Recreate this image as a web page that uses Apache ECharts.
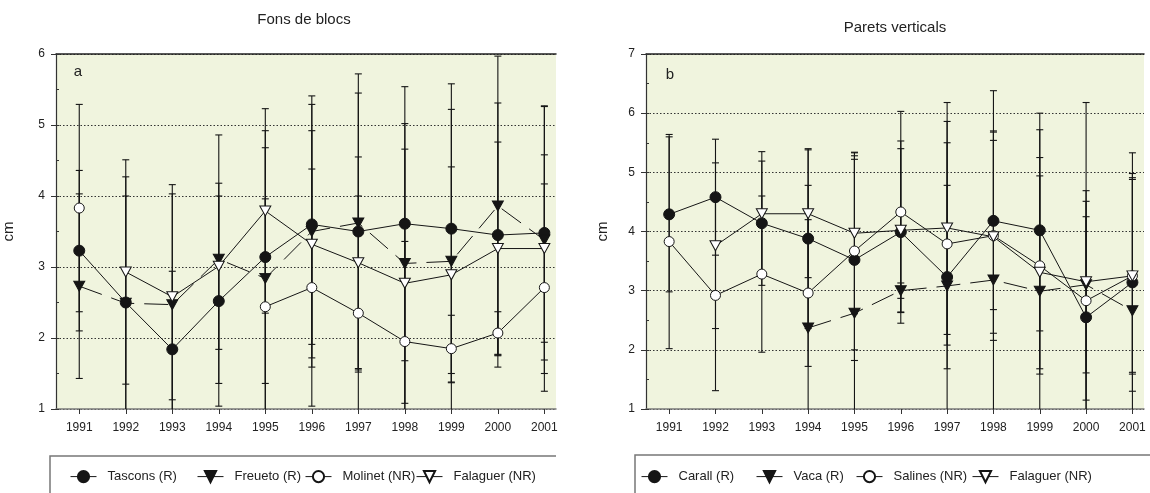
<!DOCTYPE html>
<html>
<head>
<meta charset="utf-8">
<script src="https://cdn.jsdelivr.net/npm/echarts@6/dist/echarts.min.js"></script>
<style>
  html, body { margin: 0; padding: 0; background: #ffffff; }
  #chart { width: 1150px; height: 493px; }
</style>
</head>
<body>
<div id="chart"></div>
<script>
// Survey years shared by both panels
const years = [1991, 1992, 1993, 1994, 1995, 1996, 1997, 1998, 1999, 2000, 2001];

// Panel a — Fons de blocs: mean size (cm) and standard deviation
const tascons      = [3.23, 2.50, 1.84, 2.52, 3.14, 3.60, 3.50, 3.61, 3.54, 3.45, 3.48];
const tasconsSd    = [1.13, 1.77, 1.10, 1.48, 1.78, 1.69, 1.95, 1.93, 2.04, 1.86, 1.79];
const freueto      = [2.73, 2.49, 2.47, 3.11, 2.84, 3.50, 3.62, 3.05, 3.08, 3.86, 3.38];
const freuetoSd    = [1.30, 1.51, 1.69, 1.75, 1.84, 1.91, 2.10, 1.97, 2.14, 2.11, 1.88];
const molinet      = [3.83, null, null, null, 2.44, 2.71, 2.35, 1.95, 1.85, 2.07, 2.71];
const molinetSd    = [1.46, null, null, null, 1.52, 1.67, 1.65, 1.41, 0.47, 0.30, 1.46];
const falaguerA    = [null, 2.93, 2.58, 3.01, 3.79, 3.32, 3.06, 2.77, 2.89, 3.26, 3.26];
const falaguerASd  = [null, 1.58, 1.45, 1.17, 1.44, 1.60, 1.49, 1.89, 1.52, 1.50, 1.32];

// Panel b — Parets verticals: mean size (cm) and standard deviation
const carall       = [4.29, 4.58, 4.14, 3.88, 3.52, 3.99, 3.23, 4.18, 4.02, 2.55, 3.14];
const carallSd     = [1.31, 0.98, 1.05, 1.52, 1.70, 1.54, 1.55, 1.50, 1.70, 1.70, 1.84];
const vaca         = [null, null, null, 2.37, 2.62, 3.00, 3.08, 3.18, 2.99, 3.10, 2.66];
const vacaSd       = [null, null, null, 2.41, 2.66, 0.13, 3.10, 3.20, 3.01, 3.08, 2.67];
const salines      = [3.83, 2.92, 3.28, 2.96, 3.67, 4.33, 3.79, 3.93, 3.42, 2.83, 3.25];
const salinesSd    = [1.81, 1.61, 1.32, 1.24, 1.67, 1.70, 1.71, 1.77, 1.83, 1.68, 1.63];
const falaguerB    = [null, 3.76, 4.30, 4.30, 3.97, 4.02, 4.06, 3.91, 3.31, 3.15, 3.25];
const falaguerBSd  = [null, 1.40, 1.05, 1.08, 1.36, 1.38, 1.80, 1.63, 1.63, 1.54, 1.66];

// Value-axis tick labels
const yTicksA = [1, 2, 3, 4, 5, 6];
const yTicksB = [1, 2, 3, 4, 5, 6, 7];

const FONT = '"Liberation Sans", Arial, Helvetica, sans-serif';
const INK = '#151515';
const PLOT_BG = '#F0F4DE';
const DASH = [24, 10];

const chart = echarts.init(document.getElementById('chart'), null, { renderer: 'canvas' });

// Vertical error bar with caps; the lower end is cut at the axis minimum.
function makeErrRender(yLow) {
  return function (params, api) {
    const x = api.value(0), lo = api.value(1), hi = api.value(2);
    const top = api.coord([x, hi]);
    const bot = api.coord([x, Math.max(lo, yLow)]);
    const hw = 3.5;
    const st = { stroke: INK, lineWidth: 1.1 };
    const children = [
      { type: 'line', shape: { x1: top[0], y1: top[1], x2: bot[0], y2: bot[1] }, style: st },
      { type: 'line', shape: { x1: top[0] - hw, y1: top[1], x2: top[0] + hw, y2: top[1] }, style: st }
    ];
    if (lo >= yLow) {
      children.push({ type: 'line', shape: { x1: bot[0] - hw, y1: bot[1], x2: bot[0] + hw, y2: bot[1] }, style: st });
    }
    return { type: 'group', children };
  };
}

function errSeries(vals, sds, gi, yLow) {
  const data = [];
  years.forEach((y, i) => {
    if (vals[i] != null && sds[i] != null) data.push([y, vals[i] - sds[i], vals[i] + sds[i]]);
  });
  return {
    type: 'custom', xAxisIndex: gi, yAxisIndex: gi, data,
    renderItem: makeErrRender(yLow), encode: { x: 0, y: [1, 2] },
    silent: true, animation: false, z: 2
  };
}

function lineSeries(name, vals, gi, shape, filled, dashed) {
  const tri = shape === 'tri';
  return {
    type: 'line', name, xAxisIndex: gi, yAxisIndex: gi,
    data: years.map((y, i) => [y, vals[i] == null ? '-' : vals[i]]),
    symbol: tri ? 'triangle' : 'circle',
    symbolRotate: tri ? 180 : 0,
    symbolSize: tri ? [11, 10] : (filled ? 11 : 10),
    showAllSymbol: true,
    lineStyle: { color: INK, width: 1, type: dashed ? DASH : 'solid' },
    itemStyle: { color: filled ? INK : '#ffffff', borderColor: INK, borderWidth: 1 },
    emphasis: { disabled: true },
    animation: false, z: 3
  };
}

function xAxisCfg(gi) {
  return {
    type: 'value', gridIndex: gi, min: 1990.5, max: 2001.25,
    axisLine: { show: true, lineStyle: { color: '#7a7a7a', width: 1.5 } },
    axisTick: { show: true, length: 5, customValues: years, lineStyle: { color: '#333', width: 1 } },
    axisLabel: { customValues: years, formatter: v => String(v), color: '#222', fontSize: 12, fontFamily: FONT, margin: 13 },
    splitLine: { show: false }
  };
}

function topAxisCfg(gi) {
  return {
    type: 'value', gridIndex: gi, position: 'top', min: 1990.5, max: 2001.25,
    axisLine: { show: true, lineStyle: { color: '#222', width: 1.5 } },
    axisTick: { show: false }, axisLabel: { show: false }, splitLine: { show: false }
  };
}

function yAxisCfg(gi, ticks, gap) {
  return {
    type: 'value', gridIndex: gi, position: 'left', min: ticks[0], max: ticks[ticks.length - 1], interval: 1,
    name: 'cm', nameLocation: 'middle', nameRotate: 90, nameGap: gap,
    nameTextStyle: { fontSize: 15, color: '#222', fontFamily: FONT },
    axisLine: { show: true, lineStyle: { color: '#333', width: 1.2 } },
    axisTick: { show: true, length: 5, lineStyle: { color: '#333' } },
    axisLabel: { color: '#222', fontSize: 12, fontFamily: FONT, margin: 11 },
    splitLine: { show: true, lineStyle: { color: '#333', width: 1, type: [1.5, 2] } }
  };
}

// Short inward half-unit ticks on the left axis
function yMinorCfg(gi, ticks) {
  return {
    type: 'value', gridIndex: gi, position: 'left', offset: 0,
    min: ticks[0], max: ticks[ticks.length - 1], interval: 0.5,
    axisLine: { show: false },
    axisTick: { show: true, inside: true, length: 3, lineStyle: { color: '#333' } },
    axisLabel: { show: false }, splitLine: { show: false }
  };
}

function legendItem(name, left) {
  return {
    data: [name], left, top: 470, padding: 0, itemWidth: 26, itemHeight: 14,
    selectedMode: false, lineStyle: { type: 'solid', width: 1 },
    textStyle: { fontSize: 13, color: '#222', fontFamily: FONT, padding: [0, 0, 0, 6] }
  };
}

const option = {
  backgroundColor: '#ffffff',
  animation: false,
  grid: [
    { left: 55, top: 54, width: 501, height: 355, show: true, backgroundColor: PLOT_BG, borderWidth: 0 },
    { left: 646, top: 54, width: 498, height: 355, show: true, backgroundColor: PLOT_BG, borderWidth: 0 }
  ],
  xAxis: [xAxisCfg(0), xAxisCfg(1), topAxisCfg(0), topAxisCfg(1)],
  yAxis: [yAxisCfg(0, yTicksA, 40), yAxisCfg(1, yTicksB, 36), yMinorCfg(0, yTicksA), yMinorCfg(1, yTicksB)],
  legend: [
    legendItem('Tascons (R)', 70),
    legendItem('Freueto (R)', 197),
    legendItem('Molinet (NR)', 305),
    legendItem('Falaguer (NR)', 416),
    legendItem('Carall (R)', 641),
    legendItem('Vaca (R)', 756),
    legendItem('Salines (NR)', 856),
    legendItem('Falaguer (NR)', 972)
  ],
  graphic: [
    { type: 'text', x: 304, y: 20, style: { text: 'Fons de blocs', font: '15px ' + FONT, fill: '#222', textAlign: 'center', textVerticalAlign: 'middle' } },
    { type: 'text', x: 895, y: 28, style: { text: 'Parets verticals', font: '15px ' + FONT, fill: '#222', textAlign: 'center', textVerticalAlign: 'middle' } },
    { type: 'text', x: 78, y: 72, style: { text: 'a', font: '15px ' + FONT, fill: '#222', textAlign: 'center', textVerticalAlign: 'middle' }, z: 10 },
    { type: 'text', x: 670, y: 75, style: { text: 'b', font: '15px ' + FONT, fill: '#222', textAlign: 'center', textVerticalAlign: 'middle' }, z: 10 },
    { type: 'polyline', shape: { points: [[50, 500], [50, 456], [556, 456]] }, style: { stroke: '#777', lineWidth: 1.5, fill: null } },
    { type: 'polyline', shape: { points: [[635, 500], [635, 455], [1150, 455]] }, style: { stroke: '#777', lineWidth: 1.5, fill: null } }
  ],
  series: [
    lineSeries('Tascons (R)', tascons, 0, 'circle', true, false),
    lineSeries('Freueto (R)', freueto, 0, 'tri', true, true),
    lineSeries('Molinet (NR)', molinet, 0, 'circle', false, false),
    lineSeries('Falaguer (NR)', falaguerA, 0, 'tri', false, false),
    lineSeries('Carall (R)', carall, 1, 'circle', true, false),
    lineSeries('Vaca (R)', vaca, 1, 'tri', true, true),
    lineSeries('Salines (NR)', salines, 1, 'circle', false, false),
    lineSeries('Falaguer (NR)', falaguerB, 1, 'tri', false, false),
    errSeries(tascons, tasconsSd, 0, yTicksA[0]),
    errSeries(freueto, freuetoSd, 0, yTicksA[0]),
    errSeries(molinet, molinetSd, 0, yTicksA[0]),
    errSeries(falaguerA, falaguerASd, 0, yTicksA[0]),
    errSeries(carall, carallSd, 1, yTicksB[0]),
    errSeries(vaca, vacaSd, 1, yTicksB[0]),
    errSeries(salines, salinesSd, 1, yTicksB[0]),
    errSeries(falaguerB, falaguerBSd, 1, yTicksB[0])
  ]
};

chart.setOption(option);
</script>
</body>
</html>
